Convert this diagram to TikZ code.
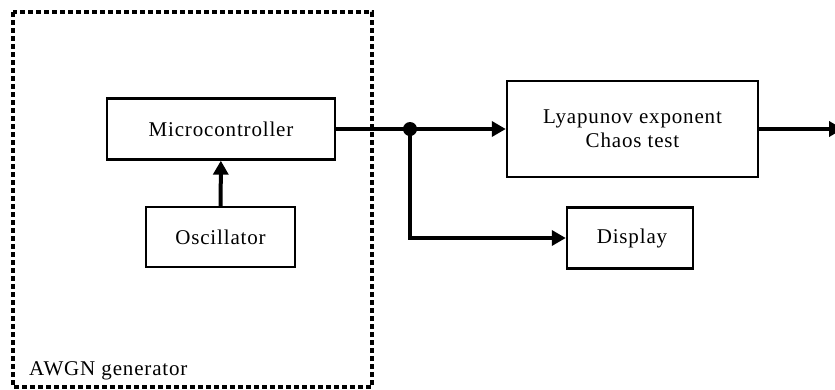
\documentclass[tikz,border=0pt]{standalone}
\usepackage{fontspec}
\setmainfont{Liberation Serif}[LetterSpace=4]
\usetikzlibrary{arrows.meta}
\tikzset{
  blk/.style={draw, line width=2.4bp, minimum width=#1, inner sep=0pt, font=\fontsize{21bp}{24bp}\selectfont, align=center},
  conn/.style={line width=4bp, -{Triangle[length=14bp,width=15bp]}},
  wire/.style={line width=4bp},
}
\begin{document}
\begin{tikzpicture}[x=1bp,y=-1bp]
\useasboundingbox (0,0) rectangle (835,389);
\draw[line width=3.4bp, dash pattern=on 5bp off 3bp] (13,12) rectangle (372,387);
\node[anchor=base west, font=\fontsize{21bp}{24bp}\selectfont, inner sep=0pt] (lab) at (29,375) {AWGN generator};
\node[blk=228bp, minimum height=61bp] (mc) at (221,129) {Microcontroller};
\node[blk=149bp, minimum height=60bp] (osc) at (220.5,237) {Oscillator};
\node[blk=251bp, minimum height=96bp] (ly) at (632.5,129) {Lyapunov exponent\\Chaos test};
\node[blk=126bp, minimum height=61bp] (dsp) at (630,238) {\hspace{4bp}Display};
\coordinate (j) at (410,129);
\coordinate (out) at (843,129);
\draw[conn] (osc) -- (mc);
\draw[wire] (mc.east) -- (j);
\draw[conn] (j) -- (ly.west);
\draw[conn] (j) |- (dsp.west);
\draw[conn] (ly.east) -- (out);
\fill (j) circle (7bp);
\end{tikzpicture}
\end{document}
